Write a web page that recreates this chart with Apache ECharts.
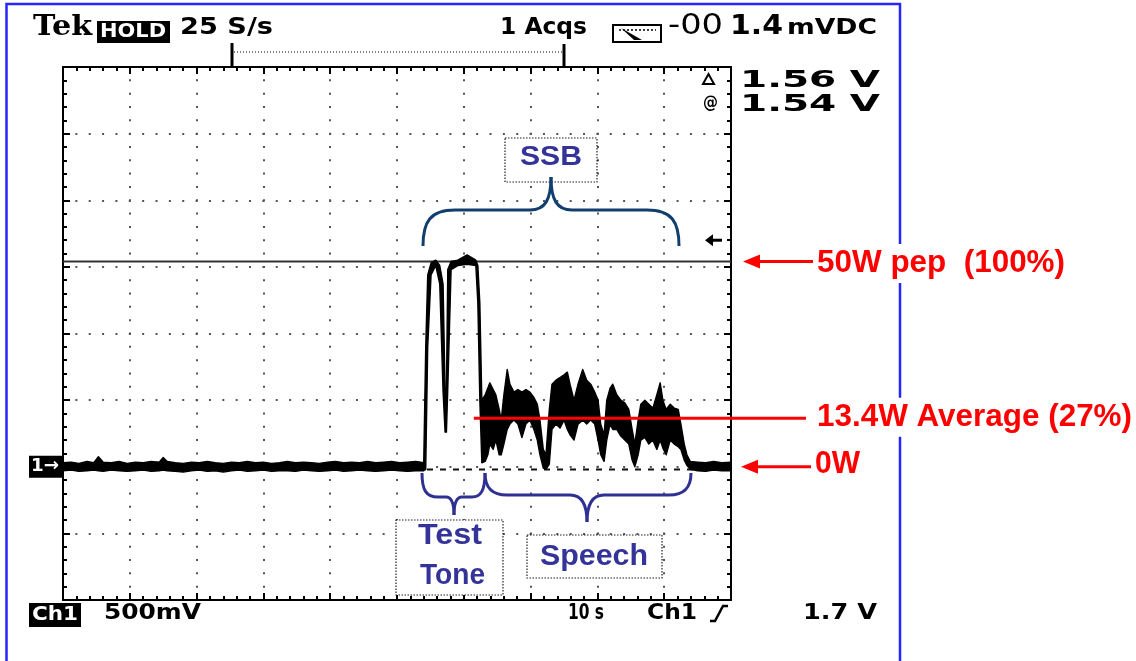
<!DOCTYPE html>
<html><head><meta charset="utf-8">
<script src="https://cdn.jsdelivr.net/npm/echarts@6/dist/echarts.min.js"></script>
<style>html,body{margin:0;padding:0;background:#fff}#c{width:1136px;height:661px}</style>
</head><body><div id="c"></div>
<script>
// ---- Data (time in s, 10 s/div; Ch1 in V, 500 mV/div) ----
var traceTime = [
 0,1.2,2.4,3.6,4.6,5.3,6.0,7.2,8.4,9.6,10.8,12.0,13.2,14.4,15.0,15.6,16.8,18.0,19.2,20.4,21.6,22.8,24.0,25.2,26.4,27.6,28.8,30.0,31.2,32.4,33.6,34.8,36.0,37.2,38.4,39.6,40.8,42.0,43.2,44.4,45.6,46.8,48.0,49.2,50.4,51.6,52.8,54.0,
 54.3,54.6,55.1,55.8,56.4,56.9,57.2,57.4,57.6,58.1,59.1,60.5,61.8,62.1,62.4,
 62.7,63.2,63.6,63.9,64.4,64.8,65.3,65.6,66.0,66.5,
 66.9,67.5,68.1,68.7,69.3,69.9,70.5,71.0,71.4,71.9,
 72.3,72.8,73.2,73.8,74.4,75.0,75.5,75.9,76.5,77.1,
 77.8,78.4,79.0,79.6,80.1,80.5,81.0,81.4,81.9,82.3,
 82.9,83.5,84.1,84.7,85.2,85.6,86.1,86.5,87.1,87.7,
 88.3,88.9,89.4,89.8,90.3,90.9,91.5,92.1,92.5,93.0,
 93.4,93.9,
 95.0,96.2,97.4,98.6,100
];
var traceMax = [
 0.03,0.035,0.025,0.04,0.03,0.075,0.035,0.03,0.04,0.025,0.035,0.03,0.04,0.035,0.07,0.04,0.03,0.025,0.035,0.03,0.04,0.03,0.025,0.035,0.03,0.04,0.03,0.035,0.025,0.03,0.04,0.03,0.035,0.03,0.025,0.035,0.04,0.03,0.035,0.03,0.04,0.03,0.035,0.04,0.03,0.035,0.04,0.03,
 0.90,1.44,1.53,1.55,1.51,1.37,0.56,0.58,1.48,1.54,1.55,1.59,1.55,1.51,1.23,
 0.50,0.54,0.59,0.63,0.58,0.54,0.43,0.35,0.54,0.73,
 0.62,0.56,0.58,0.56,0.58,0.56,0.52,0.47,0.35,0.13,
 0.09,0.43,0.62,0.65,0.67,0.69,0.71,0.62,0.50,0.62,
 0.73,0.65,0.62,0.56,0.50,0.32,0.24,0.50,0.59,0.62,
 0.54,0.50,0.48,0.43,0.28,0.17,0.35,0.47,0.50,0.47,
 0.44,0.54,0.63,0.50,0.43,0.47,0.44,0.43,0.32,0.17,
 0.09,0.04,
 0.035,0.03,0.04,0.03,0.035
];
var traceMin = [
 -0.03,-0.025,-0.035,-0.03,-0.025,-0.03,-0.035,-0.025,-0.03,-0.035,-0.03,-0.025,-0.035,-0.03,-0.025,-0.03,-0.035,-0.04,-0.03,-0.025,-0.035,-0.03,-0.04,-0.03,-0.025,-0.035,-0.03,-0.025,-0.035,-0.03,-0.03,-0.035,-0.025,-0.03,-0.035,-0.03,-0.025,-0.035,-0.03,-0.025,-0.03,-0.035,-0.03,-0.025,-0.03,-0.035,-0.03,-0.03,
 -0.02,0.90,1.44,1.51,1.37,0.56,0.26,0.26,0.58,1.48,1.51,1.52,1.51,1.23,0.50,
 0.03,0.04,0.09,0.17,0.13,0.20,0.09,0.09,0.17,0.28,
 0.32,0.35,0.32,0.22,0.32,0.35,0.28,0.20,0.09,-0.01,
 -0.02,0.02,0.28,0.32,0.29,0.35,0.28,0.24,0.20,0.32,
 0.35,0.32,0.35,0.32,0.20,0.09,0.04,0.20,0.32,0.28,
 0.28,0.23,0.20,0.17,0.05,0.00,0.09,0.20,0.22,0.17,
 0.20,0.13,0.20,0.14,0.09,0.20,0.17,0.15,0.13,0.05,
 0.01,-0.02,
 -0.03,-0.035,-0.025,-0.03,-0.03
];
var cursorLevels = [1.54, -0.02];       // @ cursor, reference cursor (delta 1.56 V)
var triggerLevel = 1.7;                  // V
var averageLevel = 0.364;                // V, red "average" line
var averageStartTime = 61.5;             // s
var timeRange = [0, 100];
var voltRange = [-1, 3];
var headerTexts = ['Tek', 'HOLD', '25 S/s', '1 Acqs', '-00', '1.4', 'mVDC'];
var cursorTexts = ['1.56 V', '1.54 V'];
var footerTexts = ['Ch1', '500mV', '10 s', 'Ch1', '1.7 V'];
var noteTexts = ['50W pep  (100%)', '13.4W Average (27%)', '0W'];
var braceTexts = ['SSB', 'Test', 'Tone', 'Speech'];

// ---- Chart ----
var chart = echarts.init(document.getElementById('c'), null, {renderer: 'canvas'});
var tickStyle = {color: '#000', width: 2};
function mkX(pos, split) {
  return {
    type: 'value', position: pos, min: timeRange[0], max: timeRange[1], interval: 10,
    axisLine: {show: true, onZero: false, lineStyle: {color: '#000', width: 2}},
    axisTick: {show: true, inside: true, length: 7, lineStyle: tickStyle},
    minorTick: {show: true, splitNumber: 5, length: 4, lineStyle: tickStyle},
    axisLabel: {show: false},
    splitLine: {show: split, lineStyle: {color: '#555', width: 2, type: [2, 11.325], dashOffset: 1}},
    minorSplitLine: {show: false}
  };
}
function mkY(pos, split) {
  return {
    type: 'value', position: pos, min: voltRange[0], max: voltRange[1], interval: 0.5,
    axisLine: {show: true, onZero: false, lineStyle: {color: '#000', width: 2}},
    axisTick: {show: true, inside: true, length: 7, lineStyle: tickStyle},
    minorTick: {show: true, splitNumber: 5, length: 4, lineStyle: tickStyle},
    axisLabel: {show: false},
    splitLine: {show: split, lineStyle: {color: '#555', width: 2, type: [2, 11.36], dashOffset: 1}},
    minorSplitLine: {show: false}
  };
}

chart.setOption({
  animation: false,
  backgroundColor: '#fff',
  grid: {left: 63, top: 67, width: 668, height: 533, containLabel: false},
  xAxis: [mkX('bottom', true), mkX('top', false)],
  yAxis: [mkY('left', true), mkY('right', false)],
  series: [
    {type: 'line', silent: true, symbol: 'none', z: 3,
     data: [[timeRange[0], cursorLevels[0]], [timeRange[1], cursorLevels[0]]],
     lineStyle: {color: '#333', width: 2}},
    {type: 'line', silent: true, symbol: 'none', z: 3,
     data: [[timeRange[0], cursorLevels[1]], [timeRange[1], cursorLevels[1]]],
     lineStyle: {color: '#111', width: 2, type: [6, 7]}},
    {type: 'custom', silent: true, z: 5, data: [[0, 0]],
     renderItem: function (params, api) {
       var n = Math.min(traceTime.length, traceMax.length, traceMin.length);
       var up = [], lo = [];
       for (var i = 0; i < n; i++) {
         up.push(api.coord([traceTime[i], traceMax[i]]));
         lo.push(api.coord([traceTime[i], traceMin[i]]));
       }
       return {type: 'polygon', shape: {points: up.concat(lo.reverse())},
               style: {fill: '#000', stroke: '#000', lineWidth: 1.4, lineJoin: 'round'}};
     }}
  ]
});

// ---- Annotations ----
var mctx = document.createElement('canvas').getContext('2d');
function fitText(str, left, midY, width, size, o) {
  o = o || {};
  var weight = o.weight || 'bold', family = o.family || 'DejaVu Sans';
  mctx.font = weight + ' ' + size + 'px ' + family;
  var w = mctx.measureText(str).width || 1;
  var st = {text: str, x: 0, y: 0, fill: o.color || '#000', fontSize: size, fontWeight: weight,
            fontFamily: family, align: 'left', textAlign: 'left', verticalAlign: 'middle', textVerticalAlign: 'middle'};
  if (o.bg) { st.backgroundColor = o.bg; st.padding = o.pad || [3, 2]; }
  return {type: 'text', x: left, y: midY, scaleX: width / w, z: o.z || 60, silent: true, style: st};
}
function px(t, v) { return chart.convertToPixel({xAxisIndex: 0, yAxisIndex: 0}, [t, v]); }
function rect(x, y, w, h, st, z) { return {type: 'rect', shape: {x: x, y: y, width: w, height: h}, style: st, z: z || 60, silent: true}; }
function line(x1, y1, x2, y2, st, z) { return {type: 'line', shape: {x1: x1, y1: y1, x2: x2, y2: y2}, style: st, z: z || 60, silent: true}; }
function bez(x1, y1, c1x, c1y, c2x, c2y, x2, y2, st) {
  return {type: 'bezierCurve', shape: {x1: x1, y1: y1, cpx1: c1x, cpy1: c1y, cpx2: c2x, cpy2: c2y, x2: x2, y2: y2},
          style: st, z: 60, silent: true};
}
function poly(pts, st, z) { return {type: 'polygon', shape: {points: pts}, style: st, z: z || 60, silent: true}; }

var g = [];
// outer blue frame
g.push(rect(6.5, 4, 893.5, 700, {fill: 'none', stroke: '#2525ff', lineWidth: 2.5}, 40));

// header
g.push(fitText(headerTexts[0], 33, 28, 59, 28, {family: 'DejaVu Serif'}));
g.push(rect(97, 21, 73, 22, {fill: '#000'}));
g.push(fitText(headerTexts[1], 100, 32, 66, 19, {color: '#fff', z: 61}));
g.push(fitText(headerTexts[2], 180, 28.5, 93, 23));
g.push(fitText(headerTexts[3], 500, 28, 87, 23));
g.push(rect(613, 25, 48, 17, {fill: 'none', stroke: '#000', lineWidth: 2}));
g.push(line(619, 30, 656, 30, {stroke: '#000', lineWidth: 1.5, lineDash: [2, 2]}));
g.push(poly([[621, 28], [642, 40], [634, 40]], {fill: '#000'}));
g.push(fitText(headerTexts[4], 668, 26.5, 55, 28, {weight: 'normal'}));
g.push(fitText(headerTexts[5], 730, 26.5, 53, 27));
g.push(fitText(headerTexts[6], 787, 28.5, 90, 21));
// trigger position bar
g.push(line(232, 43, 232, 67, {stroke: '#000', lineWidth: 3}));
g.push(line(234, 52, 562, 52, {stroke: '#555', lineWidth: 1.5, lineDash: [1, 2]}));
g.push(line(564, 44, 564, 67, {stroke: '#000', lineWidth: 3}));
// cursor readouts
g.push(poly([[703, 84], [708.5, 74], [714, 84]], {fill: 'none', stroke: '#000', lineWidth: 2}));
g.push(fitText(cursorTexts[0], 740, 81.5, 140, 23));
g.push(fitText('@', 703, 104, 15, 17));
g.push(fitText(cursorTexts[1], 740, 105.5, 140, 23));
// trigger level marker
var trig = px(100, triggerLevel);
g.push(poly([[trig[0] - 26, trig[1]], [trig[0] - 18, trig[1] - 6], [trig[0] - 18, trig[1] + 6]], {fill: '#000'}));
g.push(line(trig[0] - 20, trig[1], trig[0] - 9, trig[1], {stroke: '#000', lineWidth: 3}));
// ground marker
var gnd = px(0, 0);
g.push(rect(29, gnd[1] - 11, 33, 22, {fill: '#000'}));
g.push(fitText('1\u2192', 31, gnd[1], 28, 18, {color: '#fff', z: 61}));
// footer
g.push(rect(29, 603, 52, 24, {fill: '#000'}));
g.push(fitText(footerTexts[0], 32, 615, 46, 20, {color: '#fff', z: 61}));
g.push(fitText(footerTexts[1], 104, 614, 97, 21));
g.push(fitText(footerTexts[2], 568, 613.5, 36, 21));
g.push(fitText(footerTexts[3], 647, 613.5, 50, 21));
g.push({type: 'polyline', shape: {points: [[710, 621], [715, 621], [723, 606], [728, 606]]}, style: {fill: 'none', stroke: '#000', lineWidth: 2.5}, z: 60, silent: true});
g.push(fitText(footerTexts[4], 803, 613.5, 74, 21));

// braces and boxes
var navySt = {fill: 'none', stroke: '#123e6e', lineWidth: 3};
var blueSt = {fill: 'none', stroke: '#2e3192', lineWidth: 3};
var noteBlue = '#333399';
// SSB brace (above)
g.push(bez(423, 246, 423, 222, 430, 210, 455, 210, navySt));
g.push(line(455, 210, 530, 210, navySt));
g.push(bez(530, 210, 545, 210, 551, 200, 551, 177, navySt));
g.push(bez(551, 177, 551, 200, 557, 210, 572, 210, navySt));
g.push(line(572, 210, 647, 210, navySt));
g.push(bez(647, 210, 672, 210, 679, 222, 679, 246, navySt));
// Test tone brace (below)
g.push(bez(422, 473, 422, 490, 426, 497, 438, 497, blueSt));
g.push(line(438, 497, 446, 497, blueSt));
g.push(bez(446, 497, 451, 497, 454, 502, 454, 515, blueSt));
g.push(bez(454, 515, 454, 502, 457, 497, 462, 497, blueSt));
g.push(line(462, 497, 472, 497, blueSt));
g.push(bez(472, 497, 481, 497, 485, 490, 485, 473, blueSt));
// Speech brace (below)
g.push(bez(485, 473, 485, 488, 492, 495, 507, 495, blueSt));
g.push(line(507, 495, 570, 495, blueSt));
g.push(bez(570, 495, 582, 495, 587, 505, 587, 522, blueSt));
g.push(bez(587, 522, 587, 505, 592, 495, 604, 495, blueSt));
g.push(line(604, 495, 669, 495, blueSt));
g.push(bez(669, 495, 684, 495, 691, 488, 691, 473, blueSt));

var boxSt = {fill: '#fff', stroke: '#222', lineWidth: 1.2, lineDash: [1.5, 1.5]};
g.push(rect(505, 138, 92, 44, boxSt, 55));
g.push(rect(396, 520, 107, 75, boxSt, 55));
g.push(rect(527, 535, 135, 43, boxSt, 55));
g.push(fitText(braceTexts[0], 520, 157, 62, 28, {family: 'Liberation Sans', color: noteBlue}));
g.push(fitText(braceTexts[1], 418, 536, 64, 30, {family: 'Liberation Sans', color: noteBlue}));
g.push(fitText(braceTexts[2], 420, 576, 65, 30, {family: 'Liberation Sans', color: noteBlue}));
g.push(fitText(braceTexts[3], 540, 557, 108, 30, {family: 'Liberation Sans', color: noteBlue}));

// red notes
var red = '#ff0000';
var top50 = px(100, cursorLevels[0]);
var avgStart = px(averageStartTime, averageLevel);
g.push(poly([[743, top50[1]], [760, top50[1] - 7], [760, top50[1] + 7]], {fill: red}, 70));
g.push(line(758, top50[1], 813, top50[1], {stroke: red, lineWidth: 3}, 70));
g.push(poly([[741, gnd[1]], [758, gnd[1] - 7], [758, gnd[1] + 7]], {fill: red}, 70));
g.push(line(756, gnd[1], 811, gnd[1], {stroke: red, lineWidth: 3}, 70));
g.push(line(avgStart[0], avgStart[1], 806, avgStart[1], {stroke: red, lineWidth: 3}, 70));
g.push(fitText(noteTexts[0], 815, top50[1] + 2, 248, 31, {family: 'Liberation Sans', color: red, bg: '#fff', pad: [4, 2], z: 70}));
g.push(fitText(noteTexts[1], 815, avgStart[1] - 1, 315, 31, {family: 'Liberation Sans', color: red, bg: '#fff', pad: [4, 2], z: 70}));
g.push(fitText(noteTexts[2], 815, gnd[1] - 2, 45, 31, {family: 'Liberation Sans', color: red, z: 70}));

chart.setOption({graphic: {elements: g}});
</script></body></html>
